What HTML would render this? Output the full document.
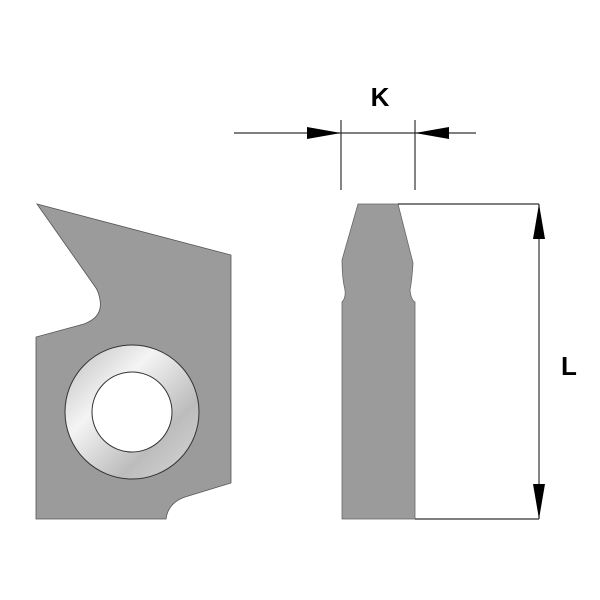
<!DOCTYPE html>
<html><head><style>body{margin:0;background:#fff}svg{display:block}</style></head>
<body>
<svg width="600" height="600" viewBox="0 0 600 600" xmlns="http://www.w3.org/2000/svg">
<defs>
<linearGradient id="g" x1="0" y1="0" x2="1" y2="1">
<stop offset="0" stop-color="#bdbdbd"/><stop offset="0.35" stop-color="#f4f4f4"/><stop offset="0.7" stop-color="#bcbcbc"/><stop offset="1" stop-color="#d8d8d8"/>
</linearGradient>
</defs>
<!-- left insert -->
<path d="M37,204 L231,255 L231,483 L185,497 Q168,503 166,519 L36,519 L36,337 L84,324 Q103,317 100,300 Q99,293 96,288 Z" fill="#9b9b9b" stroke="#555" stroke-width="0.8"/>
<circle cx="132" cy="412" r="67" fill="url(#g)" stroke="#333" stroke-width="1"/>
<circle cx="132" cy="412" r="40" fill="#fff" stroke="#333" stroke-width="1"/>
<!-- right insert -->
<path d="M358,204 L398,204 L413,263 Q412,280 410,290 Q411,300 415,302 L415,519 L342,519 L342,302 Q346,298 345,290 Q342,278 342,260 Z" fill="#9b9b9b" stroke="#666" stroke-width="0.8"/>
<!-- K dimension -->
<g stroke="#333" stroke-width="1.2" fill="none">
<line x1="341" y1="120" x2="341" y2="190"/>
<line x1="415" y1="120" x2="415" y2="190"/>
<line x1="234" y1="133" x2="476" y2="133"/>
<line x1="398" y1="204" x2="539" y2="204"/>
<line x1="415" y1="519" x2="539" y2="519"/>
<line x1="539" y1="204" x2="539" y2="519"/>
</g>
<polygon points="307,127 341,133 307,139" fill="#000"/>
<polygon points="449,127 415,133 449,139" fill="#000"/>
<polygon points="533,239 539,204 545,239" fill="#000"/>
<polygon points="533,484 539,519 545,484" fill="#000"/>
<text x="380" y="106" font-family="Liberation Sans, sans-serif" font-weight="bold" font-size="26" text-anchor="middle">K</text>
<text x="569" y="375" font-family="Liberation Sans, sans-serif" font-weight="bold" font-size="26" text-anchor="middle">L</text>
</svg>
</body></html>
